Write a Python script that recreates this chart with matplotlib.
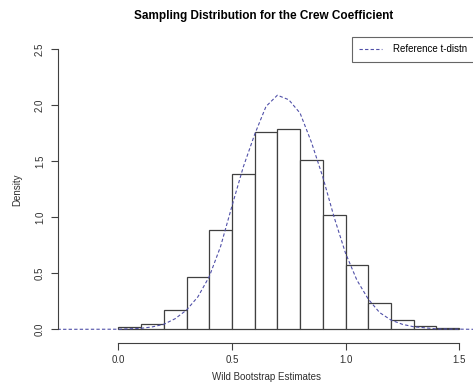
import matplotlib
matplotlib.use("Agg")
import matplotlib.pyplot as plt
import numpy as np

plt.rcParams['font.family'] = ['Liberation Sans', 'DejaVu Sans']

# histogram of the wild bootstrap estimates (density scale)
bin_edges = [0.0, 0.1, 0.2, 0.3, 0.4, 0.5, 0.6, 0.7, 0.8, 0.9, 1.0, 1.1, 1.2, 1.3, 1.4, 1.5]
densities = [0.02, 0.05, 0.17, 0.47, 0.89, 1.39, 1.76, 1.79, 1.51, 1.02, 0.57, 0.235, 0.083, 0.027, 0.009]

# reference t-distribution curve
ref_x = [-0.268, 0.0, 0.1, 0.15, 0.2, 0.25, 0.3, 0.35, 0.4, 0.45, 0.5, 0.55, 0.6, 0.65, 0.7,
         0.75, 0.8, 0.85, 0.9, 0.95, 1.0, 1.05, 1.1, 1.15, 1.2, 1.25, 1.3, 1.4, 1.568]
ref_y = [0.0, 0.001, 0.009, 0.022, 0.045, 0.095, 0.172, 0.29, 0.47, 0.74, 1.10, 1.45, 1.74, 1.99, 2.09,
         2.05, 1.93, 1.67, 1.36, 1.00, 0.68, 0.44, 0.27, 0.15, 0.083, 0.045, 0.023, 0.004, 0.0]

x_ticks = [0.0, 0.5, 1.0, 1.5]
y_ticks = [0.0, 0.5, 1.0, 1.5, 2.0, 2.5]

fig = plt.figure(figsize=(4.73, 3.88), dpi=100)
ax = fig.add_axes([0.1216, 0.116, 0.8816, 0.7887])

edges = np.array(bin_edges)
ax.bar(edges[:-1], densities, width=np.diff(edges), align='edge',
       facecolor='white', edgecolor='#404040', linewidth=0.9)
ax.plot(ref_x, ref_y, color='#5050a8', linewidth=0.8, dashes=(3, 2),
        label='Reference t-distn')

ax.set_xlim(-0.268, 1.568)
ax.set_ylim(-0.122, 2.61)

for s in ['top', 'right']:
    ax.spines[s].set_visible(False)
ax.spines['left'].set_bounds(0, 2.5)
ax.spines['bottom'].set_bounds(0, 1.5)
for s in ['left', 'bottom']:
    ax.spines[s].set_color('#404040')
    ax.spines[s].set_linewidth(0.8)

ax.set_xticks(x_ticks)
ax.set_xticklabels([f'{v:.1f}' for v in x_ticks])
ax.set_yticks(y_ticks)
ax.set_yticklabels([f'{v:.1f}' for v in y_ticks], rotation=90, va='center')
ax.tick_params(direction='out', length=5, width=0.8, color='#404040',
               labelsize=7, pad=4, labelcolor='#303030')

ax.set_xlabel('Wild Bootstrap Estimates', fontsize=7, labelpad=5, color='#303030')
ax.set_ylabel('Density', fontsize=7, labelpad=9, color='#303030')
fig.suptitle('Sampling Distribution for the Crew Coefficient', fontsize=8.5,
             fontweight='bold', x=0.558, y=0.975)

leg = ax.legend(loc='upper right', fontsize=7, frameon=True, fancybox=False,
                handlelength=2.4, handletextpad=1.1, borderpad=0.75,
                borderaxespad=0)
leg.get_frame().set_edgecolor('#404040')
leg.get_frame().set_linewidth(0.8)

fig.savefig('out.png', dpi=100)
